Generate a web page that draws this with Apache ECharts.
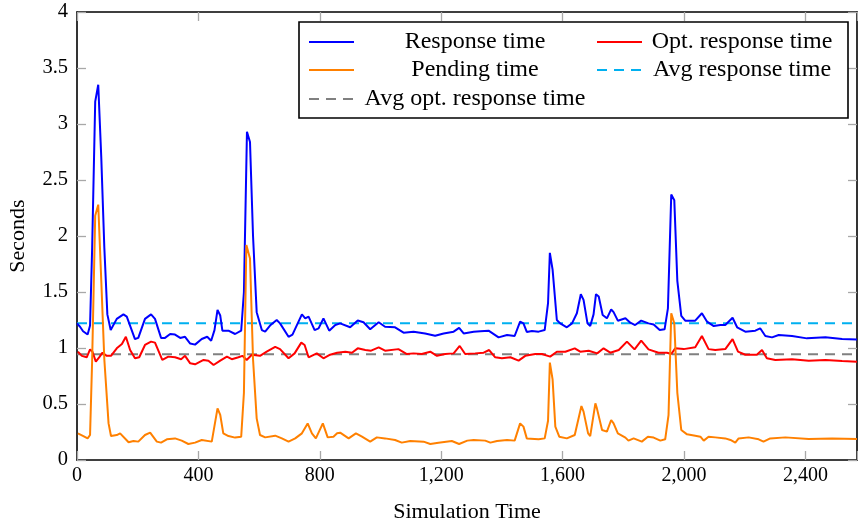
<!DOCTYPE html>
<html>
<head>
<meta charset="utf-8">
<script src="https://cdn.jsdelivr.net/npm/echarts@6/dist/echarts.min.js"></script>
<style>
  html, body { margin: 0; padding: 0; background: #fff; }
  #chart { width: 858px; height: 525px; }
</style>
</head>
<body>
<div id="chart"></div>
<script>
// values (x = simulation time, y = seconds)
var respX = [0, 10, 20, 35, 43, 50, 60, 70, 80, 90, 100, 111, 131, 153, 164, 191, 202, 224, 244, 257, 277, 290, 307, 323, 340, 356, 373, 389, 411, 429, 442, 453, 463, 472, 479, 499, 521, 541, 550, 560, 570, 580, 592, 609, 620, 636, 658, 669, 697, 710, 741, 752, 763, 783, 796, 812, 831, 851, 867, 900, 925, 944, 966, 994, 1015, 1048, 1076, 1109, 1147, 1180, 1208, 1241, 1259, 1274, 1307, 1329, 1356, 1389, 1417, 1442, 1460, 1471, 1482, 1499, 1521, 1541, 1552, 1558, 1567, 1581, 1592, 1614, 1631, 1647, 1660, 1669, 1682, 1691, 1702, 1710, 1719, 1732, 1746, 1760, 1768, 1782, 1807, 1823, 1839, 1859, 1883, 1900, 1920, 1936, 1947, 1958, 1968, 1978, 1991, 2004, 2037, 2059, 2076, 2098, 2120, 2136, 2160, 2175, 2202, 2235, 2251, 2268, 2290, 2312, 2356, 2405, 2466, 2521, 2570];
var respY = [1.22, 1.19, 1.15, 1.12, 1.2, 1.9, 3.2, 3.35, 2.7, 1.9, 1.3, 1.16, 1.26, 1.30, 1.28, 1.08, 1.09, 1.26, 1.30, 1.26, 1.09, 1.09, 1.125, 1.12, 1.09, 1.10, 1.04, 1.03, 1.08, 1.10, 1.065, 1.16, 1.34, 1.29, 1.155, 1.155, 1.125, 1.155, 1.5, 2.93, 2.84, 2.0, 1.32, 1.16, 1.146, 1.2, 1.25, 1.22, 1.10, 1.12, 1.30, 1.265, 1.28, 1.16, 1.175, 1.265, 1.155, 1.205, 1.22, 1.185, 1.245, 1.23, 1.167, 1.23, 1.19, 1.185, 1.137, 1.146, 1.13, 1.11, 1.13, 1.146, 1.18, 1.13, 1.146, 1.15, 1.155, 1.095, 1.116, 1.107, 1.235, 1.22, 1.143, 1.152, 1.146, 1.16, 1.4, 1.85, 1.7, 1.25, 1.22, 1.185, 1.22, 1.31, 1.48, 1.43, 1.22, 1.196, 1.3, 1.48, 1.46, 1.295, 1.265, 1.345, 1.32, 1.244, 1.265, 1.226, 1.205, 1.244, 1.22, 1.21, 1.16, 1.167, 1.354, 2.37, 2.32, 1.6, 1.286, 1.244, 1.244, 1.31, 1.235, 1.196, 1.205, 1.205, 1.27, 1.185, 1.146, 1.155, 1.176, 1.107, 1.095, 1.116, 1.107, 1.086, 1.095, 1.08, 1.077];

var optX = [3, 16, 32, 43, 51, 62, 73, 84, 98, 112, 131, 148, 161, 175, 191, 205, 224, 244, 257, 281, 301, 323, 343, 356, 373, 389, 417, 433, 450, 472, 494, 510, 532, 545, 559, 576, 603, 625, 653, 669, 697, 717, 739, 750, 763, 790, 812, 834, 857, 884, 906, 925, 950, 969, 994, 1015, 1059, 1087, 1109, 1136, 1164, 1186, 1213, 1241, 1261, 1279, 1312, 1340, 1358, 1378, 1400, 1428, 1455, 1477, 1510, 1532, 1559, 1581, 1609, 1640, 1658, 1686, 1714, 1735, 1757, 1785, 1812, 1837, 1859, 1883, 1916, 1944, 1958, 1971, 1999, 2037, 2059, 2081, 2103, 2136, 2160, 2178, 2202, 2240, 2257, 2273, 2301, 2356, 2411, 2466, 2521, 2570];
var optY = [0.967, 0.93, 0.917, 0.988, 0.967, 0.878, 0.917, 0.958, 0.93, 0.93, 0.997, 1.036, 1.10, 0.982, 0.908, 0.917, 1.027, 1.057, 1.048, 0.893, 0.923, 0.917, 0.9, 0.93, 0.863, 0.854, 0.893, 0.887, 0.848, 0.887, 0.923, 0.9, 0.917, 0.93, 0.893, 0.94, 0.93, 0.967, 1.01, 0.99, 0.908, 0.952, 1.048, 1.027, 0.917, 0.952, 0.908, 0.94, 0.958, 0.967, 0.958, 0.997, 0.982, 0.976, 1.006, 0.976, 0.99, 0.946, 0.952, 0.946, 0.967, 0.93, 0.946, 0.952, 1.018, 0.946, 0.952, 0.958, 0.982, 0.917, 0.908, 0.917, 0.887, 0.93, 0.946, 0.946, 0.923, 0.967, 0.967, 0.997, 0.967, 0.976, 0.952, 0.997, 0.958, 0.982, 1.057, 0.988, 1.065, 0.988, 0.958, 0.958, 0.946, 0.997, 0.99, 1.006, 1.107, 0.99, 0.982, 0.99, 1.08, 0.967, 0.94, 0.94, 0.982, 0.908, 0.893, 0.9, 0.887, 0.893, 0.884, 0.878];

var pendX = [3, 21, 35, 43, 50, 60, 70, 80, 90, 104, 112, 131, 142, 170, 186, 202, 224, 241, 263, 277, 296, 323, 345, 367, 389, 411, 444, 463, 472, 482, 499, 521, 541, 550, 558, 570, 580, 592, 603, 620, 653, 675, 697, 719, 741, 760, 774, 787, 810, 826, 845, 857, 867, 895, 919, 939, 966, 988, 1015, 1048, 1070, 1098, 1142, 1164, 1191, 1235, 1259, 1286, 1307, 1345, 1362, 1384, 1417, 1442, 1460, 1471, 1482, 1521, 1541, 1552, 1558, 1567, 1576, 1589, 1614, 1640, 1662, 1669, 1684, 1691, 1708, 1713, 1730, 1746, 1760, 1768, 1782, 1807, 1817, 1834, 1861, 1881, 1900, 1922, 1938, 1949, 1958, 1968, 1978, 1991, 2010, 2037, 2054, 2065, 2081, 2103, 2136, 2153, 2169, 2180, 2213, 2246, 2262, 2284, 2334, 2411, 2488, 2570];
var pendY = [0.238, 0.214, 0.193, 0.223, 0.9, 2.18, 2.28, 1.6, 0.9, 0.327, 0.214, 0.223, 0.238, 0.158, 0.17, 0.164, 0.223, 0.244, 0.164, 0.155, 0.185, 0.193, 0.173, 0.143, 0.155, 0.179, 0.164, 0.461, 0.402, 0.238, 0.214, 0.2, 0.208, 0.6, 1.92, 1.8, 0.9, 0.372, 0.223, 0.202, 0.217, 0.193, 0.164, 0.193, 0.238, 0.327, 0.238, 0.193, 0.327, 0.202, 0.208, 0.238, 0.244, 0.193, 0.238, 0.208, 0.164, 0.202, 0.193, 0.179, 0.155, 0.17, 0.164, 0.143, 0.155, 0.17, 0.143, 0.173, 0.179, 0.173, 0.155, 0.17, 0.179, 0.173, 0.327, 0.298, 0.193, 0.185, 0.193, 0.35, 0.87, 0.72, 0.298, 0.208, 0.193, 0.223, 0.482, 0.432, 0.238, 0.214, 0.506, 0.461, 0.268, 0.253, 0.357, 0.327, 0.238, 0.2, 0.173, 0.193, 0.164, 0.208, 0.2, 0.173, 0.185, 0.4, 1.31, 1.22, 0.6, 0.268, 0.229, 0.217, 0.208, 0.173, 0.208, 0.202, 0.193, 0.179, 0.155, 0.193, 0.202, 0.185, 0.164, 0.193, 0.202, 0.188, 0.193, 0.188];

var avgResp = 1.22;
var avgOpt = 0.945;
var xMax = 2570;

var serif = 'Liberation Serif';

function zip(xs, ys) {
    return xs.map(function(x, i) { return [x, ys[i]]; });
}

var frame = { show: true, onZero: false, lineStyle: { color: '#000', width: 1.6 } };
var ticks = { show: true, inside: true, length: 9, lineStyle: { color: '#a8a8a8', width: 1.3 } };

var myChart = echarts.init(document.getElementById('chart'), null, { renderer: 'canvas' });

function legendItem(name, left, top, itemWidth, cellWidth) {
    return {
        data: [name],
        left: left,
        top: top,
        orient: 'horizontal',
        itemWidth: itemWidth,
        itemHeight: 14,
        padding: 0,
        selectedMode: false,
        itemStyle: { opacity: 0 },   // line only, no marker
        formatter: '{t|{name}}',
        textStyle: {
            color: '#000',
            fontFamily: serif,
            fontSize: 24,
            rich: { t: { width: cellWidth, align: 'center', fontFamily: serif, fontSize: 24, lineHeight: 24 } }
        }
    };
}

var option = {
    animation: false,
    backgroundColor: '#fff',
    grid: { left: 77, right: 1, top: 12, bottom: 65, outerBoundsMode: 'none', containLabel: false },
    graphic: [{
        type: 'rect',
        z: 3,
        shape: { x: 299, y: 22, width: 549, height: 96 },
        style: { fill: '#fff', stroke: '#000', lineWidth: 1.6 }
    }],
    legend: [
        legendItem('Response time', 308, 30, 45, 232),
        legendItem('Opt. response time', 596, 30, 45, 190),
        legendItem('Pending time', 308, 58, 45, 232),
        legendItem('Avg response time', 596, 58, 45, 190),
        legendItem('Avg opt. response time', 308, 87, 45, 232)
    ],
    xAxis: [{
        type: 'value',
        position: 'bottom',
        min: 0,
        max: xMax,
        interval: 400,
        axisLine: frame,
        axisTick: ticks,
        splitLine: { show: false },
        axisLabel: {
            color: '#000',
            fontFamily: serif,
            fontSize: 20,
            margin: 6,
            formatter: function(v) { return v % 400 === 0 ? v.toLocaleString('en-US') : ''; }
        },
        name: 'Simulation Time',
        nameLocation: 'middle',
        nameGap: 41,
        nameTextStyle: { color: '#000', fontFamily: serif, fontSize: 22 }
    }, {
        type: 'value',
        position: 'top',
        min: 0,
        max: xMax,
        interval: 400,
        axisLine: frame,
        axisTick: ticks,
        splitLine: { show: false },
        axisLabel: { show: false }
    }],
    yAxis: [{
        type: 'value',
        position: 'left',
        min: 0,
        max: 4,
        interval: 0.5,
        axisLine: frame,
        axisTick: ticks,
        splitLine: { show: false },
        axisLabel: { color: '#000', fontFamily: serif, fontSize: 20.5, margin: 9 },
        name: 'Seconds',
        nameLocation: 'middle',
        nameGap: 48,
        nameTextStyle: { color: '#000', fontFamily: serif, fontSize: 22 }
    }, {
        type: 'value',
        position: 'right',
        min: 0,
        max: 4,
        interval: 0.5,
        axisLine: frame,
        axisTick: ticks,
        splitLine: { show: false },
        axisLabel: { show: false }
    }],
    series: [
        {
            name: 'Response time', type: 'line', symbol: 'none', z: 5,
            lineStyle: { color: '#0000ff', width: 2 }, itemStyle: { color: '#0000ff' },
            data: zip(respX, respY)
        },
        {
            name: 'Opt. response time', type: 'line', symbol: 'none', z: 4,
            lineStyle: { color: '#ff0000', width: 2 }, itemStyle: { color: '#ff0000' },
            data: zip(optX, optY)
        },
        {
            name: 'Pending time', type: 'line', symbol: 'none', z: 6,
            lineStyle: { color: '#ff8000', width: 2 }, itemStyle: { color: '#ff8000' },
            data: zip(pendX, pendY)
        },
        {
            name: 'Avg response time', type: 'line', symbol: 'none', z: 3,
            lineStyle: { color: '#00b0f0', width: 2, type: [10, 7] }, itemStyle: { color: '#00b0f0' },
            data: [[0, avgResp], [xMax, avgResp]]
        },
        {
            name: 'Avg opt. response time', type: 'line', symbol: 'none', z: 3,
            lineStyle: { color: '#808080', width: 2, type: [10, 7] }, itemStyle: { color: '#808080' },
            data: [[0, avgOpt], [xMax, avgOpt]]
        }
    ]
};

myChart.setOption(option);
</script>
</body>
</html>
